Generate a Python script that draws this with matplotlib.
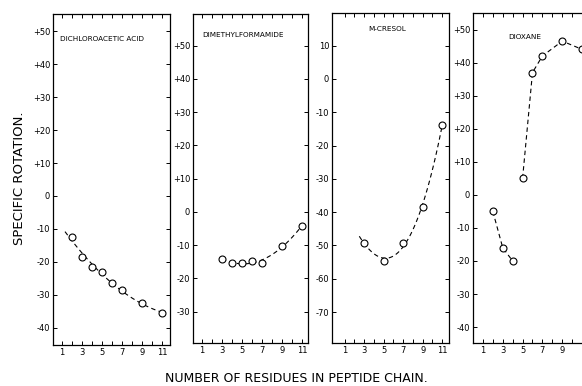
import numpy as np
import matplotlib
matplotlib.use("Agg")
import matplotlib.pyplot as plt

plt.rcParams['font.family'] = ['DejaVu Sans']

# ---- data (residues, specific rotation) ----
dca_x = [2, 3, 4, 5, 6, 7, 9, 11]
dca_y = [-12.5, -18.5, -21.5, -23, -26.5, -28.5, -32.5, -35.5]

dmf_x = [3, 4, 5, 6, 7, 9, 11]
dmf_y = [-14, -15.5, -15.3, -14.8, -15.3, -10.2, -4.2]

cre_x = [3, 5, 7, 9, 11]
cre_y = [-49.2, -54.6, -49.2, -38.4, -13.8]

dio_low_x = [2, 3, 4]
dio_low_y = [-5, -16, -20]
dio_high_x = [5, 6, 7, 9, 11]
dio_high_y = [5, 37, 42, 46.5, 44]

titles = ["DICHLOROACETIC ACID", "DIMETHYLFORMAMIDE", "M-CRESOL", "DIOXANE"]
xtick_vals = list(range(1, 12))
xtick_labels = [str(v) if v % 2 == 1 else "" for v in xtick_vals]

W, H = 582, 386
fig = plt.figure(figsize=(W / 100, H / 100), dpi=100)

def box(l, r, t, b):
    return [l / W, (H - b) / H, (r - l) / W, (b - t) / H]

axes_px = [(53, 170, 14, 345), (193, 308, 14, 343), (332, 449, 13, 343), (473, 590, 13, 343)]
ylims = [(-45.2, 55.2), (-39.4, 59.5), (-79.3, 19.8), (-44.8, 55)]
xlims = [(0.1, 11.8), (0.1, 11.6), (-0.3, 11.7), (0.0, 11.8)]
yticks = [list(range(-40, 51, 10)), list(range(-30, 51, 10)), list(range(-70, 11, 10)), list(range(-40, 51, 10))]

def fmt(v, plus=True):
    if v > 0 and plus:
        return "+%d" % v
    return "%d" % v

axs = []
for i, (p, yl, xl, yt) in enumerate(zip(axes_px, ylims, xlims, yticks)):
    ax = fig.add_axes(box(*p))
    ax.set_xlim(*xl)
    ax.set_ylim(*yl)
    ax.set_yticks(yt)
    ax.set_yticklabels([fmt(v, plus=(i != 2)) for v in yt], fontsize=6)
    ax.set_xticks(xtick_vals)
    labels = list(xtick_labels)
    if i == 3:
        labels[-1] = ""  # cut off at the figure edge in the reference
    ax.set_xticklabels(labels, fontsize=6)
    ax.tick_params(direction='in', length=3, width=0.7, top=True, right=True, pad=2)
    for s in ax.spines.values():
        s.set_linewidth(0.9)
    axs.append(ax)

line_kw = dict(color='black', linestyle=(0, (4, 3)), linewidth=0.8)
mk_kw = dict(linestyle='none', marker='o', markersize=5, markerfacecolor='white',
             markeredgecolor='black', markeredgewidth=0.8, zorder=3)

# Panel 1: smooth trend
c = np.polyfit(dca_x, dca_y, 2)
xs = np.linspace(1.3, 11, 100)
axs[0].plot(xs, np.polyval(c, xs), **line_kw)
axs[0].plot(dca_x, dca_y, **mk_kw)

# Panel 2
c = np.polyfit(dmf_x, dmf_y, 3)
xs = np.linspace(3, 11, 100)
axs[1].plot(xs, np.polyval(c, xs), **line_kw)
axs[1].plot(dmf_x, dmf_y, **mk_kw)

# Panel 3
c = np.polyfit(cre_x, cre_y, 3)
xs = np.linspace(2.5, 11, 100)
axs[2].plot(xs, np.polyval(c, xs), **line_kw)
axs[2].plot(cre_x, cre_y, **mk_kw)

# Panel 4
axs[3].plot(dio_low_x, dio_low_y, **line_kw)
axs[3].plot(dio_high_x, dio_high_y, **line_kw)
axs[3].plot(dio_low_x, dio_low_y, **mk_kw)
axs[3].plot(dio_high_x, dio_high_y, **mk_kw)

# panel titles
title_pos = [(60, 39, 'left'), (202, 35, 'left'), (387, 29, 'center'), (508, 37, 'left')]
for (x, y, ha), t in zip(title_pos, titles):
    fig.text(x / W, 1 - y / H, t, fontsize=5.2, ha=ha, va='center')

fig.text(20 / W, 1 - 178 / H, "SPECIFIC ROTATION.", rotation=90, fontsize=9.5,
         ha='center', va='center')
fig.text(296 / W, 1 - 378 / H, "NUMBER OF RESIDUES IN PEPTIDE CHAIN.", fontsize=9,
         ha='center', va='center')

fig.savefig("out.png", dpi=100)
